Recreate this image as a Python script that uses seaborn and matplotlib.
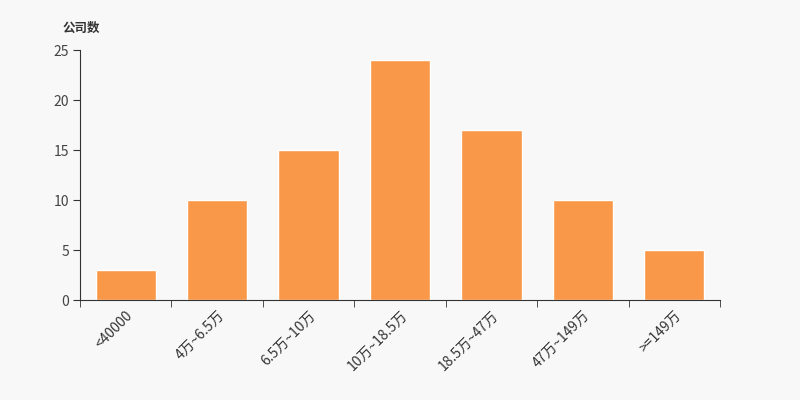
import numpy as np
import pandas as pd
import matplotlib
matplotlib.use("Agg")
import matplotlib.pyplot as plt
import seaborn as sns

# ============================================
# Data
# ============================================

categories = ["<40000", "4万~6.5万", "6.5万~10万", "10万~18.5万",
              "18.5万~47万", "47万~149万", ">=149万"]
counts = [3, 10, 15, 24, 17, 10, 5]
y_ticks = [0, 5, 10, 15, 20, 25]

df = pd.DataFrame({"range": categories, "count": counts})

# ============================================
# Style
# ============================================

sns.set_style("white")
plt.rcParams["font.family"] = ["Noto Sans CJK SC", "DejaVu Sans"]

bg = "#f8f8f8"
bar_color = "#f89848"
text_color = "#333333"

fig = plt.figure(figsize=(8, 4), dpi=100, facecolor=bg)
ax = fig.add_axes([0.1, 0.25, 0.8, 0.625])
ax.set_facecolor(bg)

sns.barplot(data=df, x="range", y="count", color=bar_color,
            width=0.66, saturation=1, ax=ax)

ax.set_xlim(-0.5, len(categories) - 0.5)
ax.set_ylim(0, 25)
ax.set_yticks(y_ticks)

# spines
for side in ["top", "right"]:
    ax.spines[side].set_visible(False)
ax.spines["left"].set_color(text_color)
ax.spines["bottom"].set_color(text_color)

# ticks: labels at centers, marks at boundaries
ax.set_xticks(np.arange(len(categories)))
ax.set_xticklabels(categories, rotation=45, ha="right",
                   rotation_mode="anchor", color=text_color, fontsize=10)
ax.set_xticks(np.arange(len(categories) + 1) - 0.5, minor=True)
ax.tick_params(axis="x", which="major", length=0, pad=6)
ax.tick_params(axis="x", which="minor", length=5, color=text_color,
               direction="out", bottom=True)
ax.tick_params(axis="y", length=5, color=text_color, labelsize=10,
               labelcolor="#444444", left=True, pad=3)

ax.set_xlabel("")
ax.set_ylabel("")

fig.text(0.078, 0.93, "公司数", fontsize=9, fontweight="bold",
         color=text_color, ha="left", va="center")

fig.savefig("out.png", dpi=100, facecolor=bg)
